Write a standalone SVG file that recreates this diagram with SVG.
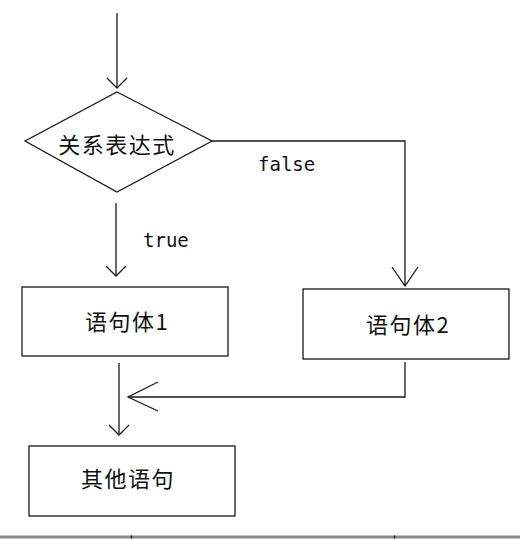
<svg xmlns="http://www.w3.org/2000/svg" width="520" height="540" viewBox="0 0 520 540">
<style>
.shape{fill:#fff;stroke:#1a1a1a;stroke-width:1.3}
.conn{fill:none;stroke:#1a1a1a;stroke-width:1.3}
.cjk{font-family:"Noto Sans CJK SC","Noto Sans",sans-serif;font-size:22px;fill:#111;text-anchor:middle;letter-spacing:1.5px}
.mono{font-family:"DejaVu Sans Mono","Liberation Mono",monospace;font-size:19px;fill:#111}
</style>
<defs>
<marker id="aS" markerUnits="userSpaceOnUse" orient="auto" markerWidth="24" markerHeight="24" refX="12" refY="12" viewBox="0 0 24 24" overflow="visible">
<path d="M2,2 L12,12 L2,22" fill="none" stroke="#1a1a1a" stroke-width="1.3"/>
</marker>
<marker id="aL" markerUnits="userSpaceOnUse" orient="auto" markerWidth="40" markerHeight="40" refX="20" refY="20" viewBox="0 0 40 40" overflow="visible">
<path d="M1,7 L20,20 L1,33" fill="none" stroke="#1a1a1a" stroke-width="1.3"/>
</marker>
<marker id="aW" markerUnits="userSpaceOnUse" orient="auto" markerWidth="40" markerHeight="40" refX="30" refY="20" viewBox="0 0 40 40" overflow="visible">
<path d="M0,6 L30,20 L0,35" fill="none" stroke="#1a1a1a" stroke-width="1.3"/>
</marker>
</defs>
<rect width="520" height="540" fill="#fff"/>
<g id="connectors">
<path class="conn" d="M117,13 V88" marker-end="url(#aS)"/>
<path class="conn" d="M116,203 V276" marker-end="url(#aS)"/>
<path class="conn" d="M212,141 H405 V286" marker-end="url(#aL)"/>
<path class="conn" d="M405,362 V397 H128" marker-end="url(#aW)"/>
<path class="conn" d="M119,363 V435" marker-end="url(#aS)"/>
<text class="mono" x="258" y="171">false</text>
<text class="mono" x="143" y="247">true</text>
</g>
<g id="cond">
<polygon class="shape" points="117,92 212,141 117,192 25,141"/>
<text class="cjk" x="117" y="153">关系表达式</text>
</g>
<g id="stmt1">
<rect class="shape" x="22" y="287" width="206" height="69"/>
<text class="cjk" x="127" y="330">语句体1</text>
</g>
<g id="stmt2">
<rect class="shape" x="303" y="289" width="206" height="70"/>
<text class="cjk" x="408" y="333">语句体2</text>
</g>
<g id="other">
<rect class="shape" x="29" y="446" width="206" height="70"/>
<text class="cjk" x="128" y="487">其他语句</text>
</g>
<g id="border">
<line x1="0" y1="537" x2="520" y2="537" stroke="#8a8a8a" stroke-width="3"/>
<line x1="131.5" y1="535.5" x2="131.5" y2="538.5" stroke="#111" stroke-width="1.2"/>
<line x1="394.5" y1="535.5" x2="394.5" y2="538.5" stroke="#111" stroke-width="1.2"/>
</g>
</svg>
